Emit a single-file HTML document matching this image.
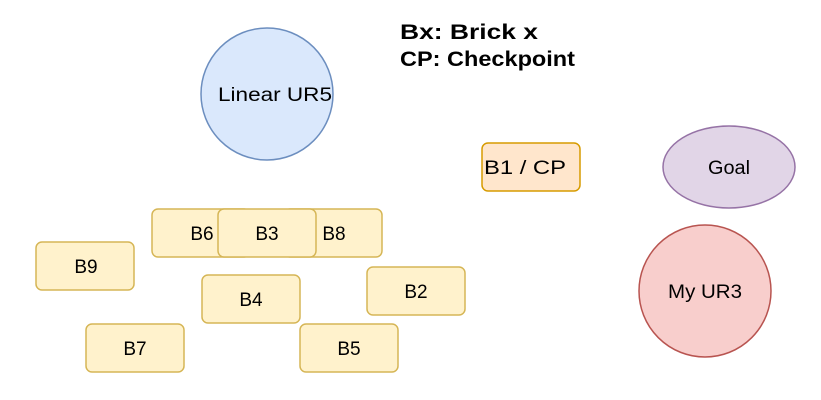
<!DOCTYPE html>
<html><head><meta charset="utf-8"><style>
html,body{margin:0;padding:0;background:#fff;}
svg{display:block;font-family:"Liberation Sans",Arial,sans-serif;}
</style></head><body>
<svg width="821" height="400" viewBox="0 0 821 400">
<g font-weight="bold" font-size="21" fill="#000">
<text x="400" y="39" textLength="138" lengthAdjust="spacingAndGlyphs">Bx: Brick x</text>
<text x="400" y="66" textLength="175" lengthAdjust="spacingAndGlyphs">CP: Checkpoint</text>
</g>
<g>
<circle cx="267" cy="94" r="66" fill="#dae8fc" stroke="#6c8ebf" stroke-width="1.5"/>
<text x="218" y="101" textLength="114" lengthAdjust="spacingAndGlyphs" font-size="19">Linear UR5</text>
</g>
<g>
<rect x="482" y="143" width="98" height="48" rx="6" fill="#ffe6cc" stroke="#d79b00" stroke-width="1.5"/>
<text x="484" y="174" textLength="82" lengthAdjust="spacingAndGlyphs" font-size="19">B1 / CP</text>
</g>
<g>
<ellipse cx="729" cy="167" rx="66" ry="41" fill="#e1d5e7" stroke="#9673a6" stroke-width="1.5"/>
<text x="708" y="174" textLength="42" lengthAdjust="spacingAndGlyphs" font-size="19">Goal</text>
</g>
<g>
<circle cx="705" cy="291" r="66" fill="#f8cecc" stroke="#b85450" stroke-width="1.5"/>
<text x="668" y="298" textLength="74" lengthAdjust="spacingAndGlyphs" font-size="19">My UR3</text>
</g>
<g font-size="19" text-anchor="middle">
<g><rect x="152" y="209" width="98" height="48" rx="6" fill="#fff2cc" stroke="#d6b656" stroke-width="1.5"/><text x="202" y="240">B6</text></g>
<g><rect x="284" y="209" width="98" height="48" rx="6" fill="#fff2cc" stroke="#d6b656" stroke-width="1.5"/><text x="334" y="240">B8</text></g>
<g><rect x="218" y="209" width="98" height="48" rx="6" fill="#fff2cc" stroke="#d6b656" stroke-width="1.5"/><text x="267" y="240">B3</text></g>
<g><rect x="36" y="242" width="98" height="48" rx="6" fill="#fff2cc" stroke="#d6b656" stroke-width="1.5"/><text x="86" y="273">B9</text></g>
<g><rect x="202" y="275" width="98" height="48" rx="6" fill="#fff2cc" stroke="#d6b656" stroke-width="1.5"/><text x="251" y="306">B4</text></g>
<g><rect x="367" y="267" width="98" height="48" rx="6" fill="#fff2cc" stroke="#d6b656" stroke-width="1.5"/><text x="416" y="298">B2</text></g>
<g><rect x="86" y="324" width="98" height="48" rx="6" fill="#fff2cc" stroke="#d6b656" stroke-width="1.5"/><text x="135" y="355">B7</text></g>
<g><rect x="300" y="324" width="98" height="48" rx="6" fill="#fff2cc" stroke="#d6b656" stroke-width="1.5"/><text x="349" y="355">B5</text></g>
</g>
</svg>
</body></html>
